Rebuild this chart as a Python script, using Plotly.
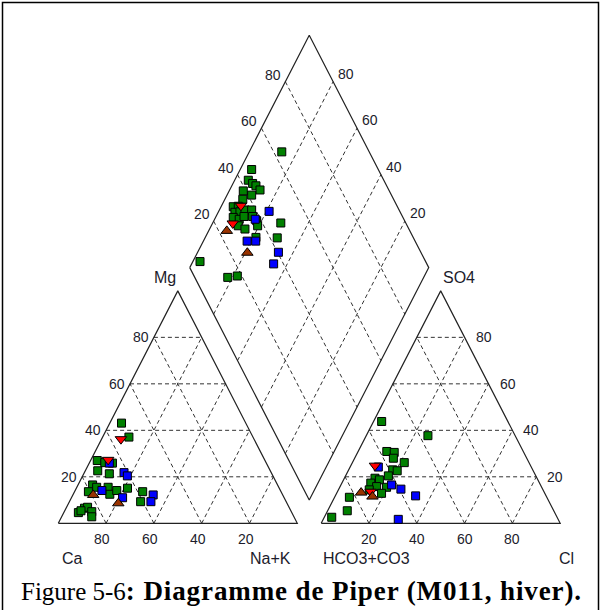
import numpy as np
import plotly.graph_objects as go

# ---------------- data (percent values) ----------------
# Cation triangle: Mg %, Na+K %  (Ca = remainder)
cat_green_mg  = [43.1, 37.1, 27.0, 26.1, 25.9, 22.6, 21.3, 16.5, 13.6, 15.5, 15.5, 12.5, 14.1, 15.1, 13.6, 9.3, 4.6, 6.5, 6.9, 5.0, 2.8, 5.4]
cat_green_nak = [4.9, 11.0, 2.8, 6.4, 9.7, 5.2, 10.7, 6.1, 5.8, 8.3, 13.1, 15.3, 17.4, 21.4, 28.5, 29.8, 6.1, 7.7, 8.8, 11.5, 12.6, 6.8]
cat_blue_mg   = [25.9, 21.8, 20.4, 14.1, 11.0, 12.2, 9.3]
cat_blue_nak  = [8.4, 16.6, 18.7, 11.2, 21.4, 33.6, 34.1]
cat_red_mg    = [36.2, 27.3]
cat_red_nak   = [8.1, 7.2]
cat_brown_mg  = [12.2, 8.6]
cat_brown_nak = [8.5, 20.8]

# Anion triangle: SO4 %, Cl %  (HCO3+CO3 = remainder)
an_green_so4 = [43.8, 37.7, 30.9, 30.5, 28.0, 26.1, 23.0, 22.6, 20.4, 19.4, 18.7, 17.3, 15.8, 15.5, 14.4, 12.9, 11.2, 5.4, 2.6]
an_green_cl  = [3.4, 25.8, 12.0, 15.3, 16.2, 21.7, 18.4, 20.5, 17.9, 12.8, 15.0, 12.1, 15.3, 19.6, 12.9, 18.8, 6.2, 8.2, 3.1]
an_blue_so4  = [24.2, 16.5, 14.7, 11.8, 1.7]
an_blue_cl   = [11.8, 21.2, 26.0, 33.6, 31.4]
an_red_so4   = [24.8, 13.6]
an_red_cl    = [10.1, 13.9]
an_brown_so4 = [13.2, 11.5]
an_brown_cl  = [10.1, 15.7]

# Diamond: SO4+Cl %, Na+K %
dia_green_sc  = [63.4, 47.0, 43.3, 44.4, 45.3, 46.1, 38.9, 41.5, 36.9, 31.3, 33.5, 30.8, 33.0, 35.5, 38.3, 29.0, 31.1, 33.7, 37.3, 38.1, 37.4, 29.3, 31.4, 34.2, 47.7, 43.0, 5.6, 13.8, 18.1]
dia_green_nak = [13.6, 4.8, 5.7, 8.2, 10.1, 12.7, 5.9, 10.3, 7.5, 5.1, 7.1, 7.0, 9.0, 10.7, 13.5, 7.4, 10.3, 11.7, 15.3, 17.9, 19.4, 11.3, 14.8, 21.2, 28.5, 30.2, 3.0, 18.0, 21.7]
dia_blue_sc   = [45.3, 37.8, 29.7, 33.3, 40.4, 35.9]
dia_blue_nak  = [21.1, 17.0, 18.3, 21.9, 33.8, 34.3]
dia_red_sc    = [34.7, 27.5]
dia_red_nak   = [8.1, 8.5]
dia_brown_sc  = [23.4, 27.3]
dia_brown_nak = [7.6, 20.9]

grid_values = [20, 40, 60, 80]
ca_ticks = ["80", "60", "40", "20"]
cl_ticks = ["20", "40", "60", "80"]

# ---------------- geometry ----------------
H = np.sqrt(3) / 2
GAP = 0.1
W_PX, H_PX = 601, 610
X0_PX, Y0_PX, SIDE_PX, STRETCH = 58.3, 523.3, 239.0, 1.123


def cat_xy(mg, nak):
    m, n = np.asarray(mg) / 100, np.asarray(nak) / 100
    return n + 0.5 * m, H * m


def an_xy(so4, cl):
    s, c = np.asarray(so4) / 100, np.asarray(cl) / 100
    return 1 + GAP + c + 0.5 * s, H * s


LX, LY = 0.5 + GAP / 2, H * (1 + GAP)


def dia_xy(sc, nak):
    a, n = np.asarray(sc) / 100, np.asarray(nak) / 100
    return LX + 0.5 * (a + n), LY + H * (a - n)


fig = go.Figure()


def add_poly(segs, dash=None, color="#222", width=1.1):
    xs, ys = [], []
    for seg in segs:
        for p in seg:
            xs.append(p[0]); ys.append(p[1])
        xs.append(None); ys.append(None)
    fig.add_trace(go.Scatter(x=xs, y=ys, mode="lines", hoverinfo="skip", showlegend=False,
                             line=dict(color=color, width=width, dash=dash)))


def pt(f, a, b):
    x, y = f(a, b)
    return (float(x), float(y))


outline = [
    [pt(cat_xy, 0, 0), pt(cat_xy, 0, 100), pt(cat_xy, 100, 0), pt(cat_xy, 0, 0)],
    [pt(an_xy, 0, 0), pt(an_xy, 0, 100), pt(an_xy, 100, 0), pt(an_xy, 0, 0)],
    [pt(dia_xy, 0, 0), pt(dia_xy, 100, 0), pt(dia_xy, 100, 100), pt(dia_xy, 0, 100), pt(dia_xy, 0, 0)],
]
grid = []
for v in grid_values:
    grid.append([pt(cat_xy, v, 0), pt(cat_xy, v, 100 - v)])
    grid.append([pt(cat_xy, 0, v), pt(cat_xy, 100 - v, v)])
    grid.append([pt(cat_xy, 0, 100 - v), pt(cat_xy, 100 - v, 0)])
    grid.append([pt(an_xy, v, 0), pt(an_xy, v, 100 - v)])
    grid.append([pt(an_xy, 0, v), pt(an_xy, 100 - v, v)])
    grid.append([pt(an_xy, 0, 100 - v), pt(an_xy, 100 - v, 0)])
    grid.append([pt(dia_xy, v, 0), pt(dia_xy, v, 100)])
    grid.append([pt(dia_xy, 0, v), pt(dia_xy, 100, v)])
add_poly(grid, dash="4px,3px", color="#333", width=1)
add_poly(outline, color="#222", width=1.2)


def add_pts(f, a, b, symbol, color, size):
    x, y = f(a, b)
    fig.add_trace(go.Scatter(x=x, y=y, mode="markers", showlegend=False, hoverinfo="skip",
                             marker=dict(symbol=symbol, color=color, size=size,
                                         line=dict(color="black", width=1))))


GREEN, BLUE, RED, BROWN = "#008000", "#0000ff", "#ff0000", "#993300"
add_pts(cat_xy, cat_green_mg, cat_green_nak, "square", GREEN, 8)
add_pts(an_xy, an_green_so4, an_green_cl, "square", GREEN, 8)
add_pts(dia_xy, dia_green_sc, dia_green_nak, "square", GREEN, 8)
add_pts(cat_xy, cat_blue_mg, cat_blue_nak, "square", BLUE, 8)
add_pts(an_xy, an_blue_so4, an_blue_cl, "square", BLUE, 8)
add_pts(dia_xy, dia_blue_sc, dia_blue_nak, "square", BLUE, 8)
add_pts(cat_xy, cat_red_mg, cat_red_nak, "triangle-down", RED, 10)
add_pts(an_xy, an_red_so4, an_red_cl, "triangle-down", RED, 10)
add_pts(dia_xy, dia_red_sc, dia_red_nak, "triangle-down", RED, 10)
add_pts(cat_xy, cat_brown_mg, cat_brown_nak, "triangle-up", BROWN, 10)
add_pts(an_xy, an_brown_so4, an_brown_cl, "triangle-up", BROWN, 10)
add_pts(dia_xy, dia_brown_sc, dia_brown_nak, "triangle-up", BROWN, 10)

NUMF = dict(family="Liberation Sans, Arial", size=14, color="#1c1c2c")
LABF = dict(family="Liberation Sans, Arial", size=16, color="#1c1c2c")
ann = []


def add_text(xy, text, xanchor, yanchor, xs=0, ys=0, font=NUMF):
    ann.append(dict(x=float(xy[0]), y=float(xy[1]), text=text, showarrow=False, xref="x", yref="y",
                    xanchor=xanchor, yanchor=yanchor, xshift=xs, yshift=ys, font=font))


for v in grid_values:
    add_text(cat_xy(v, 0), str(v), "right", "middle", xs=-3)
    add_text(an_xy(v, 100 - v), str(v), "left", "middle", xs=9)
    add_text(dia_xy(v, 0), str(v), "right", "middle", xs=-2, ys=7)
    add_text(dia_xy(100, 100 - v), str(v), "left", "middle", xs=3, ys=8)
for t in ca_ticks:
    add_text(cat_xy(0, 100 - int(t)), t, "center", "top", xs=-4, ys=-6)
for t in cl_ticks:
    add_text(an_xy(0, int(t)), t, "center", "top", xs=0, ys=-6)

add_text(cat_xy(100, 0), "Mg", "right", "bottom", xs=0, ys=3, font=LABF)
add_text(an_xy(100, 0), "SO4", "left", "bottom", xs=0, ys=3, font=LABF)
add_text(cat_xy(0, 0), "Ca", "left", "top", xs=2, ys=-25, font=LABF)
add_text(cat_xy(0, 100), "Na+K", "right", "top", xs=-4, ys=-25, font=LABF)
add_text(an_xy(0, 0), "HCO3+CO3", "left", "top", xs=0, ys=-25, font=LABF)
add_text(an_xy(0, 100), "Cl", "right", "top", xs=16, ys=-25, font=LABF)

ann.append(dict(x=19 / W_PX, y=(H_PX - 608) / H_PX, xref="paper", yref="paper", xanchor="left", yanchor="bottom",
                showarrow=False,
                text="Figure 5-6<b><span style='font-size:27px;letter-spacing:0.9px'>: Diagramme de Piper (M011, hiver).</span></b>",
                font=dict(family="Liberation Serif, Times New Roman", size=25, color="black")))

fig.update_layout(annotations=ann)

fig.add_shape(type="path", xref="paper", yref="paper",
              path=f"M {2.5/W_PX} -0.02 L {2.5/W_PX} {1-2.5/H_PX} L {598.5/W_PX} {1-2.5/H_PX} L {598.5/W_PX} -0.02",
              line=dict(color="black", width=1.5))

xr = [-X0_PX / SIDE_PX, (W_PX - X0_PX) / SIDE_PX]
yr = [(Y0_PX - H_PX) / (SIDE_PX * STRETCH), Y0_PX / (SIDE_PX * STRETCH)]
fig.update_layout(
    width=W_PX, height=H_PX, autosize=False,
    margin=dict(l=0, r=0, t=0, b=0),
    paper_bgcolor="white", plot_bgcolor="white",
    xaxis=dict(range=xr, visible=False, fixedrange=True),
    yaxis=dict(range=yr, visible=False, fixedrange=True),
    showlegend=False,
)
fig.write_html("out.html", config={"displayModeBar": False, "staticPlot": True},
               post_script="document.body.style.margin='0px';document.body.style.overflow='hidden';")
